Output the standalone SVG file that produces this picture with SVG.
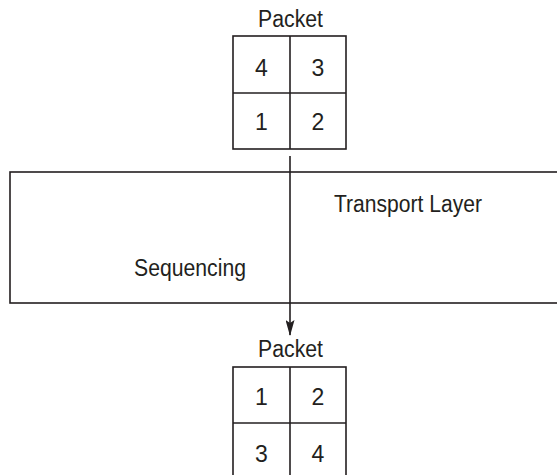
<svg xmlns="http://www.w3.org/2000/svg" width="557" height="475" viewBox="0 0 557 475">
  <style>
    .ln { fill: none; stroke: #231f20; stroke-width: 1.6; }
    .tx { font-family: "Liberation Sans", Arial, sans-serif; font-size: 23px; fill: #231f20; }
    .num { text-anchor: middle; }
  </style>
  <defs>
    <marker id="arrow" markerWidth="16" markerHeight="9" refX="15" refY="4.5" orient="auto" markerUnits="userSpaceOnUse" viewBox="0 0 16 9">
      <path d="M0,0 L16,4.5 L0,9 L3,4.5 Z" fill="#231f20"/>
    </marker>
  </defs>
  <rect width="557" height="475" fill="#ffffff"/>

  <!-- transport layer box -->
  <g id="transport-layer">
    <rect class="ln" x="10" y="172" width="560" height="131"/>
    <text class="tx" x="334" y="212" textLength="148" lengthAdjust="spacingAndGlyphs">Transport Layer</text>
    <text class="tx" x="134" y="276" textLength="112" lengthAdjust="spacingAndGlyphs">Sequencing</text>
  </g>

  <!-- incoming packet -->
  <g id="packet-in">
    <text class="tx" x="258" y="27" textLength="65" lengthAdjust="spacingAndGlyphs">Packet</text>
    <rect class="ln" x="233" y="36" width="113" height="113"/>
    <line class="ln" x1="290" y1="36" x2="290" y2="149"/>
    <line class="ln" x1="233" y1="93" x2="346" y2="93"/>
    <text class="tx num" x="261.5" y="76">4</text>
    <text class="tx num" x="318" y="76">3</text>
    <text class="tx num" x="261.5" y="130">1</text>
    <text class="tx num" x="318" y="130">2</text>
  </g>

  <!-- reordered packet -->
  <g id="packet-out">
    <text class="tx" x="258" y="357" textLength="65" lengthAdjust="spacingAndGlyphs">Packet</text>
    <rect class="ln" x="233" y="367" width="113" height="113"/>
    <line class="ln" x1="290" y1="367" x2="290" y2="480"/>
    <line class="ln" x1="233" y1="423" x2="346" y2="423"/>
    <text class="tx num" x="261.5" y="405">1</text>
    <text class="tx num" x="318" y="405">2</text>
    <text class="tx num" x="261.5" y="462">3</text>
    <text class="tx num" x="318" y="462">4</text>
  </g>

  <!-- flow through the layer -->
  <g id="connectors">
    <line class="ln" x1="290" y1="156" x2="290" y2="335" marker-end="url(#arrow)"/>
  </g>
</svg>
